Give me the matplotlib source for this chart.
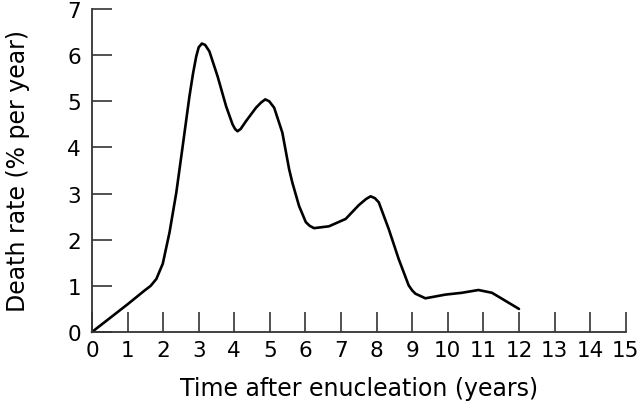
import matplotlib
matplotlib.use("Agg")
import matplotlib.pyplot as plt

# values
years = [0.0, 0.5, 1.0, 1.48, 1.65, 1.81, 1.99, 2.18, 2.37, 2.55, 2.74, 2.84,
         2.93, 3.00, 3.09, 3.18, 3.30, 3.53, 3.77, 3.95, 4.02, 4.09, 4.18,
         4.33, 4.61, 4.75, 4.87, 4.98, 5.12, 5.35, 5.54, 5.63, 5.82, 6.01,
         6.12, 6.24, 6.66, 7.13, 7.50, 7.70, 7.83, 7.95, 8.06, 8.34, 8.62,
         8.90, 9.00, 9.09, 9.37, 9.93, 10.40, 10.86, 11.24, 11.61, 12.0]
rate = [0.0, 0.30, 0.60, 0.90, 1.00, 1.15, 1.48, 2.16, 3.02, 4.03, 5.11, 5.60,
        5.97, 6.17, 6.25, 6.22, 6.08, 5.54, 4.89, 4.50, 4.40, 4.35, 4.40,
        4.57, 4.86, 4.97, 5.04, 5.00, 4.86, 4.32, 3.53, 3.24, 2.73, 2.38,
        2.30, 2.25, 2.29, 2.45, 2.75, 2.88, 2.94, 2.90, 2.81, 2.23, 1.58,
        1.01, 0.90, 0.83, 0.73, 0.81, 0.85, 0.91, 0.85, 0.68, 0.50]

xticks = list(range(0, 16))
yticks = list(range(0, 8))

plt.rcParams['font.family'] = ['DejaVu Sans']

fig = plt.figure(figsize=(6.4, 4.1), dpi=100)
ax = fig.add_axes([0.1437, 0.1878, 0.834, 0.788])

ax.plot(years, rate, color='black', lw=1.9, solid_joinstyle='round',
        solid_capstyle='round', clip_on=False)

ax.set_xlim(0, 15)
ax.set_ylim(0, 7)
ax.set_xticks(xticks)
ax.set_yticks(yticks)

for s in ['top', 'right']:
    ax.spines[s].set_visible(False)
for s in ['left', 'bottom']:
    ax.spines[s].set_color('#333333')
    ax.spines[s].set_linewidth(1.3)

ax.tick_params(direction='in', length=14.4, width=1.2, color='#333333',
               labelsize=15.5, labelcolor='black')
ax.tick_params(axis='x', pad=6)
ax.tick_params(axis='y', pad=8)

ax.set_xlabel('Time after enucleation (years)', fontsize=17)
ax.set_ylabel('Death rate (% per year)', fontsize=17)
ax.xaxis.set_label_coords(0.5, -0.135)
ax.yaxis.set_label_coords(-0.116, 0.5)

fig.savefig('out.png', dpi=100)
